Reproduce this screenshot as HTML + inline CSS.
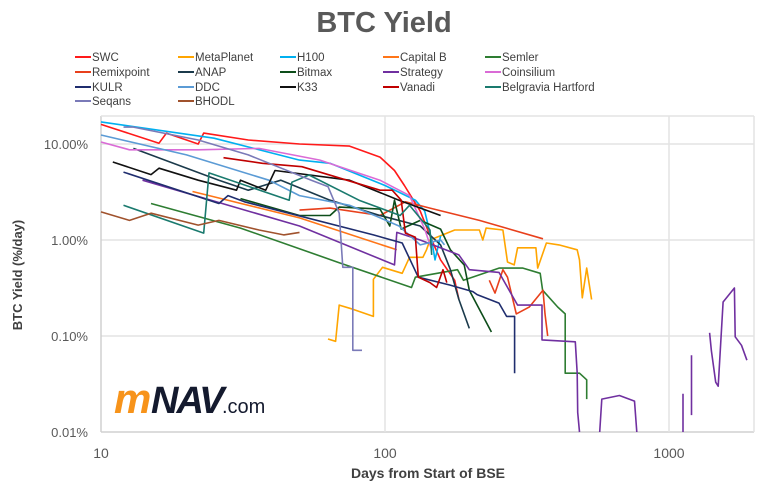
<!DOCTYPE html>
<html><head><meta charset="utf-8"><style>
body{margin:0;background:#fff;}
svg{display:block;font-family:"Liberation Sans",sans-serif;}
</style></head><body>
<svg id="chart" width="768" height="490" viewBox="0 0 768 490">
<text x="384" y="32" text-anchor="middle" font-size="29" font-weight="bold" fill="#595959">BTC Yield</text>
<g id="grid"></g>
<g id="ticks"></g>
<g id="series"></g>
<g id="legend"></g>
<text x="0" y="0" transform="translate(22,275) rotate(-90)" text-anchor="middle" font-size="13" font-weight="bold" fill="#404040">BTC Yield (%/day)</text>
<text x="428" y="478" text-anchor="middle" font-size="14" font-weight="bold" fill="#404040">Days from Start of BSE</text>
<g>
<text x="114" y="413" font-size="42" font-weight="bold" font-style="italic" fill="#f7931a" letter-spacing="-2">m</text>
<text x="151" y="413" font-size="38" font-weight="bold" font-style="italic" fill="#141a2e" letter-spacing="-2">NAV</text>
<text x="222" y="413" font-size="20" fill="#141a2e">.com</text>
</g>
</svg>
<script>
const xTicks=[10,100,1000];
const xTickLabels=["10","100","1000"];
const yTicks=[10,1,0.1,0.01];
const yTickLabels=["10.00%","1.00%","0.10%","0.01%"];
const seriesNames=["SWC","MetaPlanet","H100","Capital B","Semler","Remixpoint","ANAP","Bitmax","Strategy","Coinsilium","KULR","DDC","K33","Vanadi","Belgravia Hartford","Seqans","BHODL"];
const seriesColors=["#ff1a1a","#ffa500","#00b0f0","#ff7518","#2e7d32","#e8401c","#1b3a4b","#0d4d1a","#7030a0","#da6bd6","#1f2d6e","#5b9bd5","#111111","#c00000","#1a7a6e","#7a7ab8","#a0522d"];
// [day, %/day]; null = gap
const swc=[[10,16],[16,10.2],[17,13],[22,10],[23,13],[33,11],[50,10],[75,9.5],[96,7.3],[108,5.3],[117,3.7],[133,2],[146,1],[157,0.62],[176,0.38],[182,0.24]];
const metaplanet=[[63,0.093],[67,0.088],[69,0.21],[77,0.19],[91,0.16],[91,0.39],[98,0.52],[115,0.45],[122,0.66],[136,0.66],[140,0.79],[144,1],[176,1.27],[215,1.27],[221,1],[227,1.33],[260,1.27],[270,0.59],[285,0.55],[293,0.83],[340,0.83],[345,0.51],[370,0.93],[410,0.89],[475,0.79],[484,0.62],[495,0.25],[513,0.51],[534,0.24]];
const h100=[[10,17],[25,11.5],[50,6.8],[64,6.3],[100,3.7],[128,2.6],[138,2],[146,1],[150,0.62],[157,1.1]];
const capitalB=[[21,3.2],[50,1.7],[110,0.79]];
const semler=[[15,2.4],[31,1.33],[69,0.58],[124,0.32],[128,0.41],[180,0.49],[189,0.38],[252,0.51],[306,0.51],[352,0.45],[359,0.3],[406,0.2],[431,0.17],[431,0.041],[484,0.041],[513,0.035],[513,0.022]];
const remixpoint=[[50,2.05],[64,2.15],[96,1.8],[118,2.5],[144,2.15],[215,1.6],[360,1.03],null,[233,0.38],[244,0.28],[260,0.49],[270,0.41],[290,0.17],[322,0.2],[360,0.3],[366,0.17],[374,0.1]];
const anap=[[13,9],[26,4.2],[33,3.3],[43,4.2],[64,2.6],[96,1.8],[133,1.4],[157,0.89],[170,0.49],[182,0.24],[198,0.12]];
const bitmax=[[31,2.7],[50,1.8],[64,1.8],[69,2.2],[96,2.1],[104,1.4],[108,2.6],[114,1.3],[133,1.6],[157,1.3],[170,0.79],[190,0.55],[198,0.3],[237,0.11]];
const strategy=[[14,4.2],[33,2],[50,1.4],[108,0.55],[110,1.2],[133,1],[182,0.7],[198,0.49],[252,0.46],[293,0.21],[357,0.21],[357,0.091],[468,0.087],[475,0.041],[477,0.016],[484,0.01],null,[570,0.01],[580,0.022],[669,0.024],[756,0.021],[770,0.01],null,[1120,0.01],[1120,0.025],null,[1200,0.063],[1200,0.015],null,[1390,0.108],[1410,0.07],[1460,0.033],[1490,0.03],[1550,0.226],[1700,0.316],[1710,0.098],[1800,0.08],[1880,0.056]];
const coinsilium=[[10,10.5],[12.6,8.7],[22,8.7],[36,9],[59,6.8],[96,4.2],[122,2.9],[138,1.3],[146,0.79]];
const kulr=[[12,5.1],[26,2.4],[28,2.9],[32,2.5],[91,1.13],[115,0.93],[131,0.41],[169,0.34],[204,0.29],[211,0.27],[252,0.22],[268,0.16],[286,0.16],[286,0.041]];
const ddc=[[10,12.4],[20,7.7],[39,4.2],[50,2.9],[75,2.3],[92,1.8],[112,1.4],[133,0.89],[157,1],[162,0.89]];
const k33=[[11,6.5],[15,4.8],[16,5.6],[22,4.2],[30,3.3],[31,4.2],[38,3.3],[41,5.3],[75,4.2],[112,2.6],[157,1.8]];
const vanadi=[[27,7.2],[37,6.3],[51,5.8],[96,3.3],[106,3.3],[114,2.6],[118,1.18],[128,1.07],[131,0.41],[144,0.36],[152,0.32],[160,0.49],[165,0.36]];
const belgravia=[[12,2.3],[23,1.18],[24,5],[46,2.6],[47,4],[54,4.75],[81,2.6],[113,1.8],[122,2.3],[144,1.27],[146,0.7]];
const seqans=[[12,15],[13,15],[22,11],[33,7.7],[55,4.2],[63,3.6],[69,1.9],[71,0.52],[77,0.52],[77,0.071],[83,0.071]];
const bhodl=[[10,1.96],[12.6,1.6],[15,1.9],[22,1.43],[26,1.6],[36,1.27],[44,1.13],[50,1.2]];
const seriesData=[swc,metaplanet,h100,capitalB,semler,remixpoint,anap,bitmax,strategy,coinsilium,kulr,ddc,k33,vanadi,belgravia,seqans,bhodl];

const L=101,R=754,T=116,B=432;
const xS=d=>L+284*Math.log10(d/10);
const yS=v=>240-96*Math.log10(v);
const NS="http://www.w3.org/2000/svg";
function mk(tag,attrs,parent){const e=document.createElementNS(NS,tag);for(const k in attrs)e.setAttribute(k,attrs[k]);parent.appendChild(e);return e;}
const gridG=document.getElementById('grid'),ticksG=document.getElementById('ticks');
yTicks.forEach((v,i)=>{
  const ln=mk('line',{x1:L,x2:R,y1:yS(v),y2:yS(v),stroke:i===yTicks.length-1?'#d0d0d0':'#e3e3e3','stroke-width':1.5},gridG);
  
  
  const t=mk('text',{x:88,y:yS(v)+5,'text-anchor':'end','font-size':13,fill:'#595959'},ticksG);
  t.textContent=yTickLabels[i];
  
  
});
xTicks.forEach((d,i)=>{
  const ln=mk('line',{x1:xS(d),x2:xS(d),y1:T,y2:B,stroke:i===0?'#d0d0d0':'#e3e3e3','stroke-width':1.5},gridG);
  
  
  const t=mk('text',{x:xS(d),y:458,'text-anchor':'middle','font-size':14,fill:'#595959'},ticksG);
  t.textContent=xTickLabels[i];
  
  
});
const plotTopBorder=mk('line',{x1:L,x2:R,y1:T,y2:T,stroke:'#e3e3e3','stroke-width':1.5},gridG);


const plotRightBorder=mk('line',{x1:R,x2:R,y1:T,y2:B,stroke:'#e3e3e3','stroke-width':1.5},gridG);



const seriesG=document.getElementById('series');
seriesData.forEach((data,i)=>{
  let d='',pen=false;
  data.forEach(p=>{
    if(!p){pen=false;return;}
    d+=(pen?'L':'M')+xS(p[0]).toFixed(1)+' '+yS(p[1]).toFixed(1)+' ';pen=true;
  });
  const path=mk('path',{d:d,fill:'none',stroke:seriesColors[i],'stroke-width':1.6,'stroke-linejoin':'round'},seriesG);
  
  
});

const legendG=document.getElementById('legend');
const colX=[75,178,280,383,485],rowY=[57,72,87,101];
seriesNames.forEach((n,i)=>{
  const cx=colX[i%5],cy=rowY[Math.floor(i/5)];
  const g=mk('g',{},legendG);
  
  
  mk('line',{x1:cx,x2:cx+16,y1:cy,y2:cy,stroke:seriesColors[i],'stroke-width':2},g);
  const t=mk('text',{x:cx+17,y:cy+4,'font-size':11.5,fill:'#404040'},g);
  t.textContent=n;
});
</script>
</body></html>
